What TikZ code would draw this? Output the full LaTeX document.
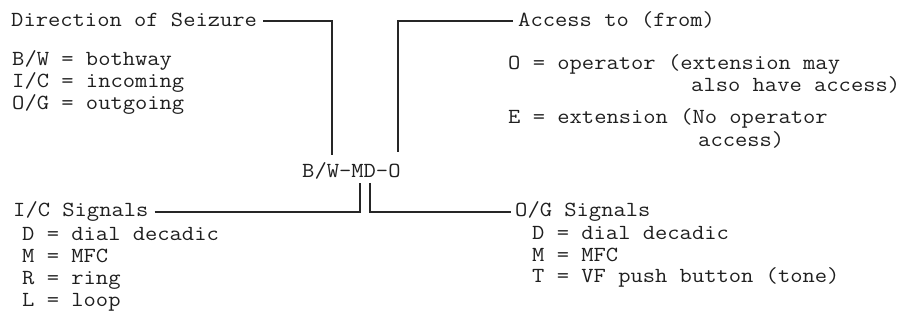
\documentclass[tikz,border=0pt]{standalone}
\begin{document}
\begin{tikzpicture}[x=1pt,y=-1pt,
  txt/.style={anchor=base west, inner sep=0pt, xscale=1.11,
    font=\ttfamily\fontsize{21.5}{22}\selectfont, text=black!88},
  conn/.style={draw=black!85, line width=1.2pt}]
\useasboundingbox (0,0) rectangle (911,323);
% central code
\node[txt] (code) at (302,178) {B/W-MD-O};
% top left
\node[txt] (dir) at (11,27) {Direction of Seizure};
\node[txt] (bw) at (12,66) {B/W = bothway};
\node[txt] (ic) at (12,88) {I/C = incoming};
\node[txt] (og) at (12,110) {O/G = outgoing};
% top right
\node[txt] (acc) at (518,27) {Access to (from)};
\node[txt] (op1) at (508,70) {O = operator (extension may};
\node[txt] (op2) at (691,92) {also have access)};
\node[txt] (ex1) at (508,124) {E = extension (No operator};
\node[txt] (ex2) at (698,147) {access)};
% bottom left
\node[txt] (ics) at (13,217) {I/C Signals};
\node[txt] (icd) at (22,241) {D = dial decadic};
\node[txt] (icm) at (22,263) {M = MFC};
\node[txt] (icr) at (22,285) {R = ring};
\node[txt] (icl) at (22,306) {L = loop};
% bottom right
\node[txt] (ogs) at (515,217) {O/G Signals};
\node[txt] (ogd) at (532,240) {D = dial decadic};
\node[txt] (ogm) at (532,262) {M = MFC};
\node[txt] (ogt) at (532,283) {T = VF push button (tone)};
% attachment points on the code
\coordinate (cW) at (332,155);
\coordinate (cO) at (398,152);
\coordinate (cM) at (360,183);
\coordinate (cD) at (370,183);
% connectors
\draw[conn] ([shift={(6,-6)}]dir.base east) -| (cW);
\draw[conn] (cO) |- ([shift={(-5,-6)}]acc.base west);
\draw[conn] ([shift={(6,-5)}]ics.base east) -| (cM);
\draw[conn] (cD) |- ([shift={(-4,-5)}]ogs.base west);
\end{tikzpicture}
\end{document}
